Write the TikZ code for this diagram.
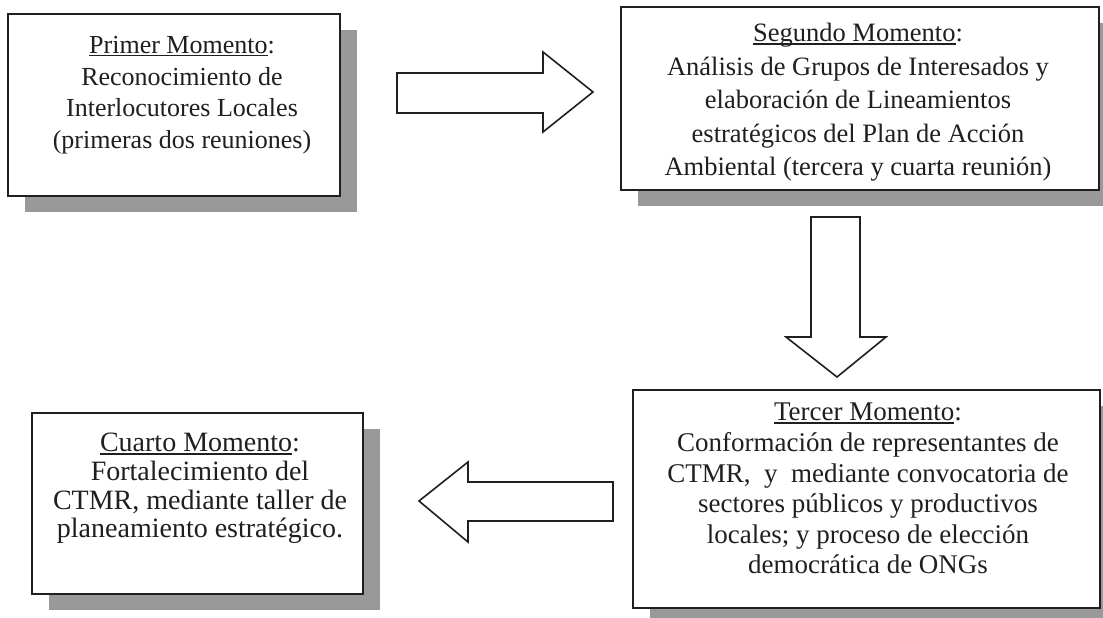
\documentclass[tikz,border=0pt]{standalone}
\usepackage{fontspec}
\setmainfont{Liberation Serif}
\usetikzlibrary{shadows}
\newsavebox\myulbox
\newcommand\myul[1]{\sbox\myulbox{#1}\rlap{\rule[-0.11em]{\wd\myulbox}{0.055em}}\usebox\myulbox}
\tikzset{
  mbox/.style={draw=black!88, line width=2pt, fill=white, inner sep=0pt,
    drop shadow={shadow xshift=17pt, shadow yshift=-16pt, fill=black!40, opacity=1}},
  blockarrow/.style={draw=black!88, line width=1.6pt, fill=white, line join=miter},
  mtext/.style={align=center, inner sep=0pt, anchor=north, text=black!88},
}
\begin{document}
\begin{tikzpicture}[x=1pt,y=-1pt]
\useasboundingbox (0,0) rectangle (1103,618);
\clip (0,0) rectangle (1103,618);
\fill[white] (0,0) rectangle (1103,618);
% boxes
\node[mbox, minimum width=332, minimum height=182] (b1) at (174,105) {};
\node[mbox, minimum width=478, minimum height=183] (b2) at (860,98.5) {};
\node[mbox, minimum width=467, minimum height=218] (b3) at (866.5,499) {};
\node[mbox, minimum width=331, minimum height=181] (b4) at (197.5,503.5) {};
% texts
\node[mtext, font=\fontsize{26}{31.7}\selectfont] (t1) at (182,36)
  {\myul{Primer Momento}:\\Reconocimiento de\\Interlocutores Locales\\(primeras dos reuniones)};
\node[mtext, font=\fontsize{26.5}{33.6}\selectfont] (t2) at (858,23)
  {\myul{Segundo Momento}:\\An\'alisis de Grupos de Interesados y\\elaboraci\'on de Lineamientos\\estrat\'egicos del Plan de Acci\'on\\Ambiental (tercera y cuarta reuni\'on)};
\node[mtext, font=\fontsize{27}{30.6}\selectfont] (t3) at (868,403)
  {\myul{Tercer Momento}:\\Conformaci\'on de representantes de\\CTMR,\ \ y\ \ mediante convocatoria de\\sectores p\'ublicos y productivos\\locales; y proceso de elecci\'on\\democr\'atica de ONGs};
\node[mtext, font=\fontsize{28}{28.7}\selectfont] (t4) at (200,433)
  {\myul{Cuarto Momento}:\\Fortalecimiento del\\CTMR, mediante taller de\\planeamiento estrat\'egico.};
% block arrows
\draw[blockarrow] (397,73) -- (543,73) -- (543,52) -- (593,92) -- (543,132) -- (543,113) -- (397,113) -- cycle;
\draw[blockarrow] (811,217) -- (860,217) -- (860,337) -- (886,337) -- (837,377) -- (786,337) -- (811,337) -- cycle;
\draw[blockarrow] (613,482) -- (468,482) -- (468,462) -- (419,501) -- (468,542) -- (468,521) -- (613,521) -- cycle;
\end{tikzpicture}
\end{document}
